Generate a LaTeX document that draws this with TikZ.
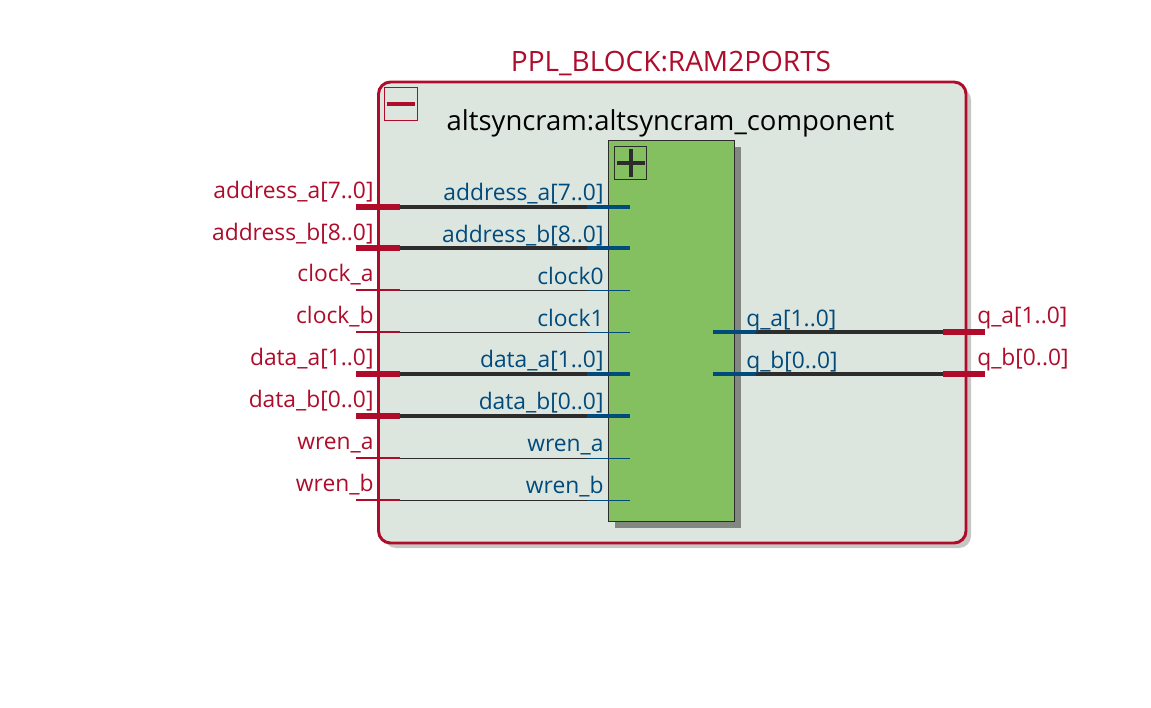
\documentclass[tikz,border=0pt]{standalone}
\usepackage{fontspec}
\setmainfont{Open Sans}
\definecolor{qred}{HTML}{AE0C2A}
\definecolor{qblue}{HTML}{004A7C}
\definecolor{qblack}{HTML}{2C2C2C}
\definecolor{qbody}{HTML}{DDE6DE}
\definecolor{qgreen}{HTML}{84C05F}
\definecolor{qshadowa}{HTML}{C6C6C6}
\definecolor{qshadowb}{HTML}{828782}
\tikzset{
  px/.style={x=0.75pt,y=-0.75pt},
  pinred/.style={font=\fontsize{17.1pt}{20pt}\selectfont,text=qred,inner sep=0pt},
  pinblue/.style={font=\fontsize{17.1pt}{20pt}\selectfont,text=qblue,inner sep=0pt},
  titlered/.style={font=\fontsize{21pt}{24pt}\selectfont,text=qred,inner sep=0pt},
  titleblack/.style={font=\fontsize{20.6pt}{24pt}\selectfont,text=black,inner sep=0pt},
  busw/.style={line width=3pt},
  sigw/.style={line width=0.8pt},
  busred/.style={line width=3.9pt},
  sigred/.style={line width=1.5pt},
}
\begin{document}
\begin{tikzpicture}[px]
\useasboundingbox (0,0) rectangle (1151,707);
% outer block
\fill[qshadowa,rounded corners=9pt] (384,88) rectangle (971,548);
\draw[qred,fill=qbody,line width=2.2pt,rounded corners=9pt] (378.5,82) rectangle (966,543);
\node[titlered,anchor=base] (outertitle) at (671,71) {PPL\_BLOCK:RAM2PORTS};
\node[titleblack,anchor=base] (innertitle) at (670.5,130) {altsyncram:altsyncram\_component};
% collapse box
\node[draw=qred,line width=0.75pt,minimum size=24.5pt,inner sep=0pt,anchor=north west] (minusbox) at (384,87) {};
\draw[qred,line width=3pt] (387,104) -- (415,104);
% inner block
\fill[qshadowb] (615,147) rectangle (741,528);
\node[draw=qblack,fill=qgreen,line width=0.8pt,minimum width=94.9pt,minimum height=285.8pt,inner sep=0pt,anchor=north west] (core) at (607.7,139.7) {};
\node[draw=qblack,line width=0.75pt,minimum size=24.5pt,inner sep=0pt,anchor=north west] (plusbox) at (613.8,146.3) {};
\draw[qblack,line width=3pt] (617,163) -- (645,163) (631,149) -- (631,177);
% input pins
\foreach \yy/\lblo/\lbli/\wst/\rst/\by/\bz in {
  206.9/address\_a[7..0]/address\_a[7..0]/busw/busred/198.5/200,
  247.9/address\_b[8..0]/address\_b[8..0]/busw/busred/240.5/242.5,
  290.3/clock\_a/clock0/sigw/sigred/281.5/284.5,
  332.3/clock\_b/clock1/sigw/sigred/323.5/326.5,
  373.9/data\_a[1..0]/data\_a[1..0]/busw/busred/365/367.5,
  415.9/data\_b[0..0]/data\_b[0..0]/busw/busred/407.5/409.5,
  458.3/wren\_a/wren\_a/sigw/sigred/449.5/451.5,
  500.3/wren\_b/wren\_b/sigw/sigred/491.5/493.5}{
  \coordinate (p0) at (356,\yy);
  \coordinate (p1) at (399.5,\yy);
  \coordinate (p2) at (587,\yy);
  \coordinate (p3) at (629.5,\yy);
  \draw[qblack,\wst] (p1) -- (p2);
  \draw[qred,\rst] (p0) -- (p1);
  \draw[qblue,\wst] (p2) -- (p3);
  \node[pinred,anchor=base east] at (373.8,\by) {\lblo};
  \node[pinblue,anchor=base east] at (603.8,\bz) {\lbli};
}
% output pins
\foreach \yy/\lblo/\lbli in {
  331.9/q\_a[1..0]/q\_a[1..0],
  373.9/q\_b[0..0]/q\_b[0..0]}{
  \coordinate (o0) at (713,\yy);
  \coordinate (o1) at (755.5,\yy);
  \coordinate (o2) at (943,\yy);
  \coordinate (o3) at (985,\yy);
  \draw[qblack,busw] (o1) -- (o2);
  \draw[qblue,busw] (o0) -- (o1);
  \draw[qred,busred] (o2) -- (o3);
  \node[pinblue,anchor=base west] at (746,\yy-5.4) {\lbli};
  \node[pinred,anchor=base west] at (977,\yy-8.4) {\lblo};
}
\end{tikzpicture}
\end{document}
